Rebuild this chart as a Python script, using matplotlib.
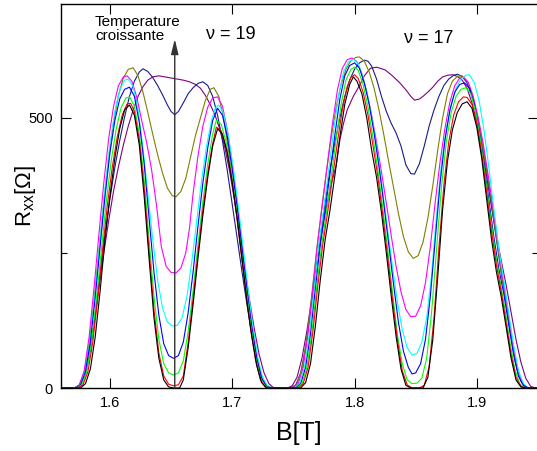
import matplotlib
matplotlib.use("Agg")
import matplotlib.pyplot as plt

plt.rcParams['font.family'] = ['Liberation Sans', 'DejaVu Sans']
plt.rcParams['mathtext.fontset'] = 'custom'
plt.rcParams['mathtext.rm'] = 'Liberation Sans'

# R_xx (Ohm) versus B (T), one curve per temperature
black = [(1.560, 0), (1.576, 0), (1.580, 8), (1.584, 35), (1.588, 95), (1.592, 180), (1.596, 275),
         (1.600, 355), (1.604, 425), (1.608, 480), (1.612, 515), (1.616, 524), (1.620, 505), (1.624, 450),
         (1.628, 355), (1.632, 240), (1.636, 130), (1.640, 55), (1.644, 15), (1.648, 2), (1.652, 0),
         (1.657, 0), (1.660, 15), (1.664, 75), (1.668, 155), (1.672, 240), (1.676, 320), (1.680, 390),
         (1.684, 448), (1.688, 480), (1.692, 470), (1.696, 435), (1.700, 380), (1.704, 315), (1.708, 240),
         (1.712, 160), (1.716, 95), (1.720, 42), (1.724, 10), (1.728, 0),
         (1.756, 0), (1.760, 10), (1.764, 45), (1.768, 115), (1.772, 200), (1.776, 275), (1.780, 330),
         (1.784, 395), (1.788, 465), (1.792, 525), (1.796, 562), (1.799, 576), (1.802, 568), (1.806, 545),
         (1.810, 500), (1.814, 440), (1.818, 390), (1.822, 325), (1.826, 250), (1.830, 170), (1.834, 95),
         (1.838, 35), (1.842, 5), (1.846, 0), (1.856, 0), (1.860, 20), (1.864, 90), (1.868, 205),
         (1.872, 330), (1.876, 420), (1.880, 478), (1.884, 510), (1.888, 526), (1.892, 530), (1.896, 518),
         (1.900, 482), (1.904, 425), (1.908, 350), (1.912, 275), (1.916, 215), (1.920, 168), (1.924, 112),
         (1.928, 55), (1.932, 15), (1.936, 2), (1.940, 0), (1.950, 0)]

red = [(1.560, 0), (1.574, 0), (1.578, 6), (1.582, 30), (1.586, 85), (1.590, 165), (1.594, 255),
       (1.598, 340), (1.602, 410), (1.606, 465), (1.610, 505), (1.614, 526), (1.617, 527), (1.620, 512),
       (1.624, 460), (1.628, 370), (1.632, 255), (1.636, 145), (1.640, 65), (1.644, 22), (1.648, 7),
       (1.652, 4), (1.656, 6), (1.660, 22), (1.664, 85), (1.668, 165), (1.672, 250), (1.676, 330),
       (1.680, 398), (1.684, 452), (1.687, 483), (1.691, 476), (1.695, 445), (1.699, 395), (1.703, 330),
       (1.707, 255), (1.711, 180), (1.715, 110), (1.719, 52), (1.723, 15), (1.727, 2), (1.730, 0),
       (1.754, 0), (1.758, 8), (1.762, 38), (1.766, 105), (1.770, 190), (1.774, 265), (1.778, 325),
       (1.782, 390), (1.786, 455), (1.790, 515), (1.794, 558), (1.797, 575), (1.800, 580), (1.803, 573),
       (1.807, 548), (1.811, 505), (1.815, 450), (1.819, 392), (1.823, 322), (1.827, 245), (1.831, 165),
       (1.835, 90), (1.839, 32), (1.843, 6), (1.847, 0), (1.853, 0), (1.857, 5), (1.861, 40),
       (1.865, 130), (1.869, 260), (1.873, 375), (1.877, 455), (1.881, 505), (1.885, 530), (1.889, 539),
       (1.892, 538), (1.896, 525), (1.900, 490), (1.904, 432), (1.908, 362), (1.912, 290), (1.916, 228),
       (1.920, 178), (1.924, 120), (1.928, 62), (1.932, 20), (1.936, 3), (1.940, 0), (1.950, 0)]

green = [(1.560, 0), (1.573, 0), (1.577, 6), (1.581, 30), (1.585, 85), (1.589, 165), (1.593, 255),
         (1.597, 345), (1.601, 420), (1.605, 478), (1.609, 518), (1.613, 537), (1.616, 539), (1.620, 522),
         (1.624, 470), (1.628, 385), (1.632, 275), (1.636, 170), (1.640, 90), (1.644, 45), (1.648, 28),
         (1.652, 24), (1.656, 28), (1.660, 50), (1.664, 105), (1.668, 180), (1.672, 265), (1.676, 345),
         (1.680, 415), (1.684, 470), (1.687, 496), (1.691, 488), (1.695, 455), (1.699, 402), (1.703, 337),
         (1.707, 262), (1.711, 188), (1.715, 118), (1.719, 58), (1.723, 18), (1.727, 3), (1.731, 0),
         (1.753, 0), (1.757, 8), (1.761, 38), (1.765, 100), (1.769, 185), (1.773, 262), (1.777, 325),
         (1.781, 392), (1.785, 462), (1.789, 525), (1.793, 570), (1.797, 590), (1.800, 594), (1.803, 588),
         (1.807, 562), (1.811, 520), (1.815, 465), (1.819, 405), (1.823, 335), (1.827, 258), (1.831, 178),
         (1.835, 100), (1.839, 45), (1.843, 15), (1.847, 8), (1.851, 9), (1.855, 18), (1.859, 55),
         (1.863, 140), (1.867, 255), (1.871, 370), (1.875, 455), (1.879, 510), (1.883, 540), (1.887, 553),
         (1.891, 556), (1.895, 545), (1.899, 512), (1.903, 458), (1.907, 390), (1.911, 318), (1.915, 252),
         (1.919, 198), (1.923, 145), (1.927, 85), (1.931, 35), (1.935, 8), (1.939, 0), (1.950, 0)]

blue = [(1.560, 0), (1.572, 0), (1.576, 6), (1.580, 30), (1.584, 85), (1.588, 168), (1.592, 262),
        (1.596, 355), (1.600, 435), (1.604, 495), (1.608, 535), (1.612, 553), (1.616, 557), (1.620, 540),
        (1.624, 492), (1.628, 415), (1.632, 315), (1.636, 215), (1.640, 135), (1.644, 82), (1.648, 60),
        (1.652, 55), (1.656, 60), (1.660, 85), (1.664, 140), (1.668, 215), (1.672, 300), (1.676, 380),
        (1.680, 445), (1.684, 495), (1.688, 518), (1.692, 505), (1.696, 465), (1.700, 405), (1.704, 335),
        (1.708, 258), (1.712, 182), (1.716, 112), (1.720, 55), (1.724, 18), (1.728, 3), (1.732, 0),
        (1.752, 0), (1.756, 8), (1.760, 38), (1.764, 100), (1.768, 185), (1.772, 265), (1.776, 330),
        (1.780, 398), (1.784, 470), (1.788, 535), (1.792, 578), (1.796, 597), (1.800, 602), (1.804, 592),
        (1.808, 565), (1.812, 525), (1.816, 472), (1.820, 410), (1.824, 340), (1.828, 265), (1.832, 190),
        (1.836, 120), (1.840, 68), (1.844, 38), (1.847, 26), (1.850, 28), (1.854, 45), (1.858, 90),
        (1.862, 170), (1.866, 275), (1.870, 380), (1.874, 460), (1.878, 515), (1.882, 548), (1.886, 562),
        (1.890, 565), (1.894, 555), (1.898, 525), (1.902, 475), (1.906, 412), (1.910, 345), (1.914, 278),
        (1.918, 220), (1.922, 175), (1.926, 118), (1.930, 62), (1.934, 22), (1.938, 5), (1.942, 0), (1.950, 0)]

cyan = [(1.560, 0), (1.572, 0), (1.576, 6), (1.580, 32), (1.584, 92), (1.588, 178), (1.592, 275),
        (1.596, 370), (1.600, 450), (1.604, 512), (1.608, 552), (1.612, 570), (1.615, 572), (1.619, 558),
        (1.623, 515), (1.627, 445), (1.631, 360), (1.635, 275), (1.639, 200), (1.643, 148), (1.647, 122),
        (1.651, 115), (1.655, 116), (1.659, 130), (1.663, 170), (1.667, 235), (1.671, 310), (1.675, 385),
        (1.679, 448), (1.683, 495), (1.686, 518), (1.689, 524), (1.693, 508), (1.697, 465), (1.701, 405),
        (1.705, 335), (1.709, 258), (1.713, 182), (1.717, 112), (1.721, 55), (1.725, 18), (1.729, 3),
        (1.733, 0),
        (1.751, 0), (1.755, 8), (1.759, 38), (1.763, 100), (1.767, 185), (1.771, 268), (1.775, 335),
        (1.779, 405), (1.783, 478), (1.787, 542), (1.791, 585), (1.795, 604), (1.799, 609), (1.803, 600),
        (1.807, 575), (1.811, 538), (1.815, 490), (1.819, 432), (1.823, 365), (1.827, 295), (1.831, 225),
        (1.835, 160), (1.839, 108), (1.843, 75), (1.847, 61), (1.851, 64), (1.855, 85), (1.859, 130),
        (1.863, 210), (1.867, 320), (1.871, 415), (1.875, 480), (1.879, 525), (1.883, 555), (1.887, 572),
        (1.891, 579), (1.894, 580), (1.898, 565), (1.902, 530), (1.906, 475), (1.910, 405), (1.914, 330),
        (1.918, 258), (1.922, 200), (1.926, 140), (1.930, 80), (1.934, 32), (1.938, 8), (1.942, 0), (1.950, 0)]

magenta = [(1.560, 0), (1.571, 0), (1.575, 6), (1.579, 32), (1.583, 95), (1.587, 185), (1.591, 285),
           (1.595, 380), (1.599, 462), (1.603, 522), (1.607, 560), (1.611, 576), (1.614, 578), (1.618, 568),
           (1.622, 538), (1.626, 495), (1.630, 455), (1.634, 405), (1.638, 340), (1.642, 262), (1.646, 225),
           (1.650, 214), (1.654, 213), (1.658, 222), (1.662, 250), (1.665, 295), (1.668, 360), (1.672, 430),
           (1.676, 485), (1.680, 520), (1.684, 537), (1.688, 539), (1.692, 522), (1.696, 478), (1.700, 415),
           (1.704, 342), (1.708, 265), (1.712, 188), (1.716, 118), (1.720, 60), (1.724, 20), (1.728, 4),
           (1.732, 0),
           (1.750, 0), (1.754, 8), (1.758, 38), (1.762, 100), (1.766, 188), (1.770, 272), (1.774, 345),
           (1.778, 418), (1.782, 490), (1.786, 552), (1.790, 592), (1.794, 608), (1.798, 611), (1.802, 604),
           (1.806, 582), (1.810, 548), (1.814, 505), (1.818, 455), (1.822, 400), (1.826, 342), (1.830, 282),
           (1.834, 225), (1.838, 178), (1.842, 145), (1.846, 132), (1.850, 133), (1.854, 152), (1.858, 195),
           (1.862, 262), (1.866, 345), (1.870, 420), (1.874, 482), (1.878, 530), (1.882, 560), (1.886, 574),
           (1.889, 576), (1.893, 566), (1.897, 540), (1.901, 502), (1.905, 455), (1.909, 398), (1.913, 338),
           (1.917, 272), (1.921, 208), (1.925, 150), (1.929, 88), (1.933, 38), (1.937, 10), (1.941, 0),
           (1.950, 0)]

olive = [(1.560, 0), (1.571, 0), (1.575, 5), (1.579, 28), (1.583, 82), (1.587, 162), (1.591, 255),
         (1.595, 345), (1.599, 425), (1.603, 492), (1.607, 542), (1.611, 574), (1.615, 590), (1.619, 593),
         (1.623, 578), (1.627, 548), (1.631, 510), (1.635, 470), (1.639, 432), (1.643, 398), (1.647, 370),
         (1.651, 356), (1.654, 354), (1.658, 364), (1.662, 388), (1.666, 428), (1.670, 468), (1.674, 500),
         (1.678, 532), (1.682, 553), (1.685, 556), (1.689, 540), (1.693, 500), (1.697, 440), (1.701, 370),
         (1.705, 295), (1.709, 220), (1.713, 150), (1.717, 90), (1.721, 42), (1.725, 14), (1.729, 2),
         (1.733, 0),
         (1.749, 0), (1.753, 8), (1.757, 35), (1.761, 92), (1.765, 172), (1.769, 255), (1.773, 330),
         (1.777, 400), (1.781, 465), (1.785, 520), (1.789, 562), (1.793, 590), (1.797, 606), (1.801, 612),
         (1.804, 613), (1.808, 605), (1.812, 585), (1.816, 555), (1.820, 515), (1.824, 468), (1.828, 418),
         (1.832, 370), (1.836, 322), (1.840, 280), (1.844, 252), (1.848, 240), (1.852, 245), (1.856, 270),
         (1.860, 315), (1.864, 375), (1.868, 440), (1.872, 500), (1.876, 545), (1.880, 568), (1.884, 577),
         (1.888, 578), (1.892, 568), (1.896, 545), (1.900, 508), (1.904, 460), (1.908, 405), (1.912, 345),
         (1.916, 280), (1.920, 215), (1.924, 158), (1.928, 95), (1.932, 42), (1.936, 12), (1.940, 0),
         (1.950, 0)]

navy = [(1.560, 0), (1.572, 0), (1.576, 5), (1.580, 25), (1.584, 70), (1.588, 135), (1.592, 210),
        (1.596, 285), (1.600, 350), (1.604, 408), (1.608, 458), (1.612, 502), (1.616, 540), (1.620, 568),
        (1.624, 585), (1.627, 591), (1.631, 586), (1.635, 575), (1.639, 560), (1.643, 543), (1.647, 524),
        (1.650, 512), (1.653, 506), (1.656, 512), (1.660, 528), (1.664, 545), (1.668, 556), (1.672, 564),
        (1.676, 567), (1.680, 560), (1.684, 540), (1.688, 505), (1.692, 458), (1.696, 402), (1.700, 340),
        (1.704, 278), (1.708, 215), (1.712, 155), (1.716, 100), (1.720, 55), (1.724, 22), (1.728, 5),
        (1.732, 0),
        (1.748, 0), (1.752, 6), (1.756, 28), (1.760, 75), (1.764, 140), (1.768, 210), (1.772, 280),
        (1.776, 345), (1.780, 405), (1.784, 455), (1.788, 500), (1.792, 540), (1.796, 570), (1.800, 590),
        (1.804, 602), (1.808, 607), (1.811, 605), (1.814, 596), (1.818, 572), (1.822, 540), (1.826, 512),
        (1.830, 490), (1.834, 472), (1.838, 448), (1.842, 413), (1.846, 397), (1.849, 396), (1.853, 415),
        (1.857, 448), (1.861, 485), (1.865, 515), (1.869, 540), (1.873, 560), (1.877, 572), (1.881, 579),
        (1.884, 581), (1.888, 577), (1.892, 565), (1.896, 540), (1.900, 505), (1.904, 458), (1.908, 402),
        (1.912, 340), (1.916, 275), (1.920, 212), (1.924, 158), (1.928, 98), (1.932, 45), (1.936, 14),
        (1.940, 2), (1.944, 0), (1.950, 0)]

purple = [(1.560, 0), (1.571, 0), (1.575, 5), (1.579, 25), (1.583, 65), (1.587, 120), (1.591, 185),
          (1.595, 250), (1.599, 310), (1.603, 365), (1.607, 410), (1.611, 450), (1.615, 485), (1.619, 515),
          (1.623, 540), (1.627, 558), (1.631, 570), (1.635, 576), (1.640, 578), (1.645, 576), (1.650, 574),
          (1.655, 572), (1.660, 570), (1.665, 567), (1.670, 562), (1.674, 555), (1.678, 542), (1.682, 525),
          (1.686, 505), (1.690, 478), (1.694, 445), (1.698, 400), (1.702, 345), (1.706, 285), (1.710, 225),
          (1.714, 165), (1.718, 110), (1.722, 62), (1.726, 28), (1.730, 8), (1.734, 0),
          (1.745, 0), (1.749, 4), (1.753, 20), (1.757, 55), (1.761, 105), (1.765, 165), (1.769, 225),
          (1.773, 285), (1.777, 335), (1.781, 378), (1.785, 412), (1.788, 459), (1.791, 490), (1.794, 515),
          (1.799, 540), (1.804, 560), (1.808, 578), (1.813, 592), (1.818, 594), (1.825, 589), (1.831, 578),
          (1.837, 565), (1.842, 552), (1.846, 540), (1.849, 533), (1.853, 535), (1.856, 540), (1.860, 548),
          (1.864, 557), (1.868, 568), (1.872, 576), (1.876, 579), (1.880, 580), (1.884, 577), (1.888, 570),
          (1.892, 555), (1.896, 528), (1.900, 490), (1.904, 445), (1.908, 392), (1.912, 335), (1.916, 282),
          (1.920, 235), (1.924, 190), (1.928, 140), (1.932, 90), (1.936, 48), (1.940, 18), (1.944, 3),
          (1.948, 0), (1.950, 0)]

# highest temperature first so the cold curves sit on top
curves = [(purple, '#800080'), (navy, '#1a1a8c'), (olive, '#808000'), (magenta, '#ff00ff'),
          (cyan, '#00ffff'), (blue, '#0000ff'), (green, '#00ff00'), (red, '#ff0000'), (black, '#000000')]

fig = plt.figure(figsize=(5.37, 4.51), dpi=100)
ax = fig.add_axes([61 / 537, 1 - 388 / 451, 477 / 537, 384 / 451])

for pts, col in curves:
    b, r = zip(*pts)
    ax.plot(b, r, color=col, lw=0.8)

ax.set_xlim(1.56, 1.95)
ax.set_ylim(0, 711)
ax.set_xticks([1.6, 1.7, 1.8, 1.9])
ax.set_xticklabels(['1.6', '1.7', '1.8', '1.9'])
ax.set_yticks([0, 500])
ax.set_yticklabels(['0', '500'])
ax.set_yticks([250], minor=True)
ax.tick_params(which='both', direction='in', top=True, right=True, labelsize=10.5, width=0.8)
ax.tick_params(which='major', length=7, pad=6)
ax.tick_params(which='minor', length=4)
for s in ax.spines.values():
    s.set_linewidth(1.0)

# arrow: increasing temperature
ax.annotate('', xy=(1.653, 646), xytext=(1.653, 0),
            arrowprops=dict(arrowstyle='-|>,head_length=0.9,head_width=0.22', color='#333333',
                            lw=1.0, shrinkA=0, shrinkB=0, mutation_scale=10))
ax.text(1.5877, 691, 'Temperature\ncroissante', fontsize=11, ha='left', va='top', linespacing=1.05)
ax.text(1.699, 646, 'ν = 19', fontsize=13, ha='center', va='baseline')
ax.text(1.861, 639, 'ν = 17', fontsize=13, ha='center', va='baseline')

fig.text(299 / 537, 1 - 433 / 451, 'B[T]', fontsize=18, ha='center', va='center')
fig.text(25 / 537, 1 - 196 / 451, r'R$_\mathregular{xx}$[Ω]', fontsize=16, rotation=90,
         ha='center', va='center')

fig.savefig('out.png', dpi=100)
